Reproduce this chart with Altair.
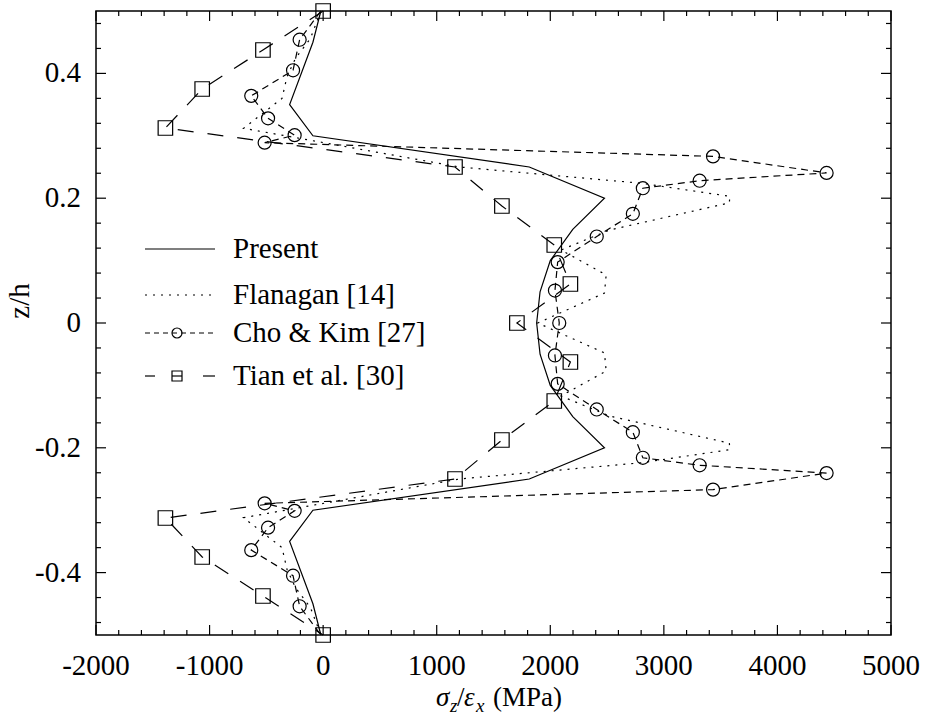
import altair as alt
import pandas as pd

# ---------------- data ----------------
present_z = [0.5, 0.45, 0.35, 0.3, 0.25, 0.2, 0.15, 0.1, 0.05, 0.0,
             -0.05, -0.1, -0.15, -0.2, -0.25, -0.3, -0.35, -0.45, -0.5]
present_x = [-20, -90, -295, -90, 1815, 2477, 2198, 2000, 1910, 1880,
             1910, 2000, 2198, 2477, 1815, -90, -295, -90, -20]

flanagan_z = [0.5, 0.456, 0.424, 0.395, 0.36, 0.312, 0.25, 0.224, 0.203, 0.1925,
              0.149, 0.117, 0.077, 0.048, 0.0,
              -0.048, -0.077, -0.117, -0.149, -0.1925, -0.203, -0.224, -0.25,
              -0.312, -0.36, -0.395, -0.424, -0.456, -0.5]
flanagan_x = [-20, -112, -244, -318, -362, -701, 1200, 2800, 3580, 3577,
              2521, 2094, 2492, 2477, 1890,
              2477, 2492, 2094, 2521, 3577, 3580, 2800, 1200,
              -701, -362, -318, -244, -112, -20]

cho_z = [0.5, 0.454, 0.405, 0.364, 0.328, 0.301, 0.289, 0.267, 0.2405, 0.228,
         0.216, 0.175, 0.1386, 0.0976, 0.052, 0.0,
         -0.052, -0.0976, -0.1386, -0.175, -0.216, -0.228, -0.2405, -0.267,
         -0.289, -0.301, -0.328, -0.364, -0.405, -0.454, -0.5]
cho_x = [-20, -207, -265, -633, -485, -251, -515, 3433, 4433, 3315,
         2815, 2727, 2409, 2065, 2041, 2079,
         2041, 2065, 2409, 2727, 2815, 3315, 4433, 3433,
         -515, -251, -485, -633, -265, -207, -20]

tian_z = [0.5, 0.4375, 0.375, 0.3125, 0.25, 0.1875, 0.125, 0.0625, 0.0,
          -0.0625, -0.125, -0.1875, -0.25, -0.3125, -0.375, -0.4375, -0.5]
tian_x = [0, -530, -1065, -1389, 1161, 1574, 2035, 2177, 1706,
          2177, 2035, 1574, 1161, -1389, -1065, -530, 0]

series_names = ["Present", "Flanagan [14]", "Cho & Kim [27]", "Tian et al. [30]"]

x_labels = [-2000, -1000, 0, 1000, 2000, 3000, 4000, 5000]
x_label_text = ["-2000", "-1000", "0", "1000", "2000", "3000", "4000", "5000"]
x_minor = [-1800, -1600, -1400, -1200, -800, -600, -400, -200,
           200, 400, 600, 800, 1200, 1400, 1600, 1800,
           2200, 2400, 2600, 2800, 3200, 3400, 3600, 3800,
           4200, 4400, 4600, 4800]
y_labels = [-0.4, -0.2, 0.0, 0.2, 0.4]
y_label_text = ["-0.4", "-0.2", "0", "0.2", "0.4"]
y_minor = [-0.48, -0.44, -0.36, -0.32, -0.28, -0.24, -0.16, -0.12, -0.08, -0.04,
           0.04, 0.08, 0.12, 0.16, 0.24, 0.28, 0.32, 0.36, 0.44, 0.48]

# ---------------- layout / style ----------------
W, H = 795, 624
FONT = "Liberation Serif"
FS = 29
LW = 1.2

xs = alt.Scale(domain=[-2000, 5000], nice=False, zero=False)
ys = alt.Scale(domain=[-0.5, 0.5], nice=False, zero=False)


def X():
    return alt.X("x:Q", scale=xs, axis=None)


def Y():
    return alt.Y("z:Q", scale=ys, axis=None)


def frame(xv, zv):
    return pd.DataFrame({"x": xv, "z": zv, "i": list(range(len(xv)))})


df_present = frame(present_x, present_z)
df_flan = frame(flanagan_x, flanagan_z)
df_cho = frame(cho_x, cho_z)
df_tian = frame(tian_x, tian_z)

present = alt.Chart(df_present).mark_line(color="black", strokeWidth=LW).encode(
    x=X(), y=Y(), order="i:Q")
flan = alt.Chart(df_flan).mark_line(color="black", strokeWidth=LW, strokeDash=[2, 6]).encode(
    x=X(), y=Y(), order="i:Q")
cho = alt.Chart(df_cho).mark_line(color="black", strokeWidth=LW, strokeDash=[7, 5]).encode(
    x=X(), y=Y(), order="i:Q")
tian = alt.Chart(df_tian).mark_line(color="black", strokeWidth=LW, strokeDash=[16, 14]).encode(
    x=X(), y=Y(), order="i:Q")

cho_pts = alt.Chart(df_cho.iloc[1:-1]).mark_point(
    shape="circle", filled=False, size=170, color="black", strokeWidth=LW, opacity=1).encode(x=X(), y=Y())
tian_pts = alt.Chart(df_tian).mark_point(
    shape="square", filled=False, size=210, color="black", strokeWidth=LW, opacity=1).encode(x=X(), y=Y())


def xticks(vals, y1, y2):
    return alt.Chart(pd.DataFrame({"x": vals})).mark_rule(color="black", strokeWidth=LW).encode(
        x=X(), y=alt.value(y1), y2=alt.value(y2))


def yticks(vals, x1, x2):
    return alt.Chart(pd.DataFrame({"z": vals})).mark_rule(color="black", strokeWidth=LW).encode(
        y=Y(), x=alt.value(x1), x2=alt.value(x2))


MAJ, MIN = 10, 5
ticks = [
    xticks(x_labels, H, H - MAJ), xticks(x_labels, 0, MAJ),
    xticks(x_minor, H, H - MIN), xticks(x_minor, 0, MIN),
    yticks(y_labels, 0, MAJ), yticks(y_labels, W, W - MAJ),
    yticks(y_minor, 0, MIN), yticks(y_minor, W, W - MIN),
]

# tick labels
xlab = alt.Chart(pd.DataFrame({"x": x_labels, "t": x_label_text})).mark_text(
    align="center", baseline="middle", font=FONT, fontSize=FS, color="black").encode(
    x=X(), y=alt.value(H + 31), text="t:N")
ylab = alt.Chart(pd.DataFrame({"z": y_labels, "t": y_label_text})).mark_text(
    align="right", baseline="middle", font=FONT, fontSize=FS, color="black").encode(
    y=Y(), x=alt.value(-15), text="t:N")

# ---------------- legend (hand drawn) ----------------
one = pd.DataFrame({"k": [0]})
LX1, LX2, LXC, LTX = 49, 119, 81, 137
ROWS = [238, 284, 322, 365]


def lrule(x1, x2, y, dash=None):
    kw = dict(color="black", strokeWidth=LW)
    if dash:
        kw["strokeDash"] = dash
    return alt.Chart(one).mark_rule(**kw).encode(x=alt.value(x1), x2=alt.value(x2), y=alt.value(y))


def ltext(label, y):
    return alt.Chart(pd.DataFrame({"t": [label]})).mark_text(
        align="left", baseline="middle", font=FONT, fontSize=FS, color="black").encode(
        x=alt.value(LTX), y=alt.value(y), text="t:N")


legend = [
    lrule(LX1, LX2, ROWS[0]),
    lrule(LX1, LX2, ROWS[1], [2, 6]),
    lrule(LX1, LX2, ROWS[2], [5, 4]),
    alt.Chart(one).mark_point(shape="circle", filled=False, size=100, color="black",
                              strokeWidth=LW, opacity=1).encode(x=alt.value(LXC), y=alt.value(ROWS[2])),
    lrule(LX1, LX1 + 10, ROWS[3]),
    lrule(LXC - 5, LXC + 5, ROWS[3]),
    lrule(LX2 - 12, LX2, ROWS[3]),
    alt.Chart(one).mark_point(shape="square", filled=False, size=100, color="black",
                              strokeWidth=LW, opacity=1).encode(x=alt.value(LXC), y=alt.value(ROWS[3])),
]
legend += [ltext(n, y) for n, y in zip(series_names, ROWS)]

# ---------------- axis titles (composed text) ----------------


def ttext(s, x, y, size=FS, style="normal", angle=0, align="left", baseline="alphabetic"):
    kw = dict(align=align, baseline=baseline, font=FONT, fontSize=size,
              fontStyle=style, color="black")
    if angle:
        kw["angle"] = angle
    return alt.Chart(pd.DataFrame({"t": [s]})).mark_text(**kw).encode(
        x=alt.value(x), y=alt.value(y), text="t:N")


TB = 695
TS, SS = 27, 19
titles = [
    ttext("σ", 340, TB, size=TS, style="italic"),
    ttext("z", 354, TB + 6, size=SS, style="italic"),
    ttext("/", 361, TB, size=TS),
    ttext("ε", 368, TB, size=TS, style="italic"),
    ttext("x", 380, TB + 6, size=SS, style="italic"),
    ttext("(MPa)", 397, TB, size=TS),
    ttext("z/h", -76, 290, angle=270, align="center", baseline="middle"),
]

chart = alt.layer(present, flan, cho, tian, cho_pts, tian_pts, *ticks, xlab, ylab,
                  *legend, *titles).properties(
    width=W, height=H,
    padding={"left": 96, "top": 11, "right": 930 - 96 - W, "bottom": 721 - 11 - H},
    autosize=alt.AutoSizeParams(type="none"),
    background="white",
).configure_view(stroke="black", strokeWidth=1.5)

chart.save("out.html", embed_options={"renderer": "svg", "actions": False})
